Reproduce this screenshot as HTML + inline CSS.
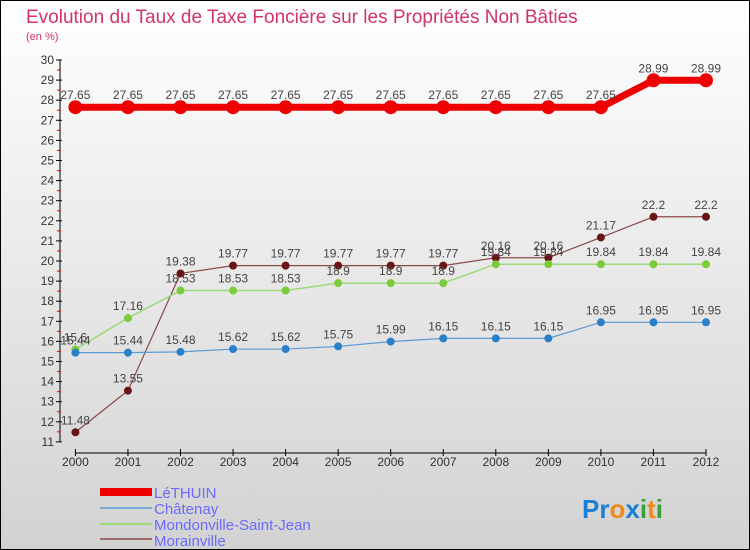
<!DOCTYPE html>
<html><head><meta charset="utf-8"><style>
body{margin:0}
#c{width:750px;height:550px;position:relative;box-sizing:border-box;border:1px solid #000;background:linear-gradient(#fff,#d2d2d2);font-family:"Liberation Sans",sans-serif;overflow:hidden}
</style></head><body>
<div id="c">
<svg id="s" width="750" height="550" style="position:absolute;left:-1px;top:-1px" font-family="Liberation Sans, sans-serif">
<text x="26" y="23" font-size="19" fill="#d2336a">Evolution du Taux de Taxe Foncière sur les Propriétés Non Bâties</text>
<text x="26" y="40" font-size="11" fill="#d2336a">(en %)</text>
<g id="axes"></g><g id="series"></g>
<g font-size="15" fill="#6a6aff">
<rect x="100" y="488" width="52" height="8" fill="#e00"/>
<text x="154" y="498">LéTHUIN</text>
<line x1="100" y1="508" x2="152" y2="508" stroke="#7aaad6" stroke-width="2"/>
<text x="154" y="514">Châtenay</text>
<line x1="100" y1="524" x2="152" y2="524" stroke="#9ed97a" stroke-width="2"/>
<text x="154" y="530">Mondonville-Saint-Jean</text>
<line x1="100" y1="539" x2="152" y2="539" stroke="#9a6a6a" stroke-width="2"/>
<text x="154" y="546">Morainville</text>
</g>
<text x="582" y="518" font-size="26" font-weight="bold"><tspan fill="#1a7fd6">Pr</tspan><tspan fill="#f08a1a">o</tspan><tspan fill="#1a7fd6">x</tspan><tspan fill="#3aa03a">i</tspan><tspan fill="#f08a1a">t</tspan><tspan fill="#3aa03a">i</tspan></text>
</svg>
</div>
<script>
const years=[2000,2001,2002,2003,2004,2005,2006,2007,2008,2009,2010,2011,2012];
const lethuin=[27.65,27.65,27.65,27.65,27.65,27.65,27.65,27.65,27.65,27.65,27.65,28.99,28.99];
const chatenay=[15.44,15.44,15.48,15.62,15.62,15.75,15.99,16.15,16.15,16.15,16.95,16.95,16.95];
const mondonville=[15.6,17.16,18.53,18.53,18.53,18.9,18.9,18.9,19.84,19.84,19.84,19.84,19.84];
const morainville=[11.48,13.55,19.38,19.77,19.77,19.77,19.77,19.77,20.16,20.16,21.17,22.2,22.2];
const yTicks=[11,12,13,14,15,16,17,18,19,20,21,22,23,24,25,26,27,28,29,30];
const NS="http://www.w3.org/2000/svg";
const X=i=>75.4+i*52.55;
const Y=v=>60+(30-v)*20.1;
function mk(tag,attrs,parent){const e=document.createElementNS(NS,tag);for(const k in attrs)e.setAttribute(k,attrs[k]);parent.appendChild(e);return e;}
const ax=document.getElementById('axes'),sr=document.getElementById('series');
let l=mk('line',{x1:60,y1:Y(30),x2:60,y2:Y(11),stroke:'#000'},ax);


yTicks.forEach(v=>{
 mk('line',{x1:56,y1:Y(v),x2:62,y2:Y(v),stroke:'#000'},ax);
 if(v<30)mk('line',{x1:57,y1:Y(v+0.5),x2:61,y2:Y(v+0.5),stroke:'#e00'},ax);
 const t=mk('text',{x:54,y:Y(v)+4,'text-anchor':'end','font-size':12,fill:'#333'},ax);t.textContent=v;
 
 
});
l=mk('line',{x1:X(0),y1:453,x2:X(12),y2:453,stroke:'#000'},ax);


years.forEach((y,i)=>{
 mk('line',{x1:X(i),y1:449,x2:X(i),y2:456,stroke:'#000'},ax);
 const t=mk('text',{x:X(i),y:466,'text-anchor':'middle','font-size':12,fill:'#333'},ax);t.textContent=y;
 
 
});
function series(data,name,line,dot,w,r){
 const g=mk('g',{},sr);
 
 
 mk('polyline',{points:data.map((v,i)=>X(i)+','+Y(v)).join(' '),fill:'none',stroke:line,'stroke-width':w},g);
 data.forEach((v,i)=>{
  const c=mk('circle',{cx:X(i),cy:Y(v),r:r,fill:dot},g);
  
  
  const t=mk('text',{x:X(i),y:Y(v)-8,'text-anchor':'middle','font-size':12,fill:'#444'},g);t.textContent=v;
 });
}
series(morainville,'morainville','#8a4a4a','#6a1515',1.2,4);
series(mondonville,'mondonville','#9ed97a','#7ccc3a',1.5,4);
series(chatenay,'chatenay','#5a9ad6','#2a80c8',1.2,4);
series(lethuin,'lethuin','#e00','#e00',7,7);
</script>
</body></html>
